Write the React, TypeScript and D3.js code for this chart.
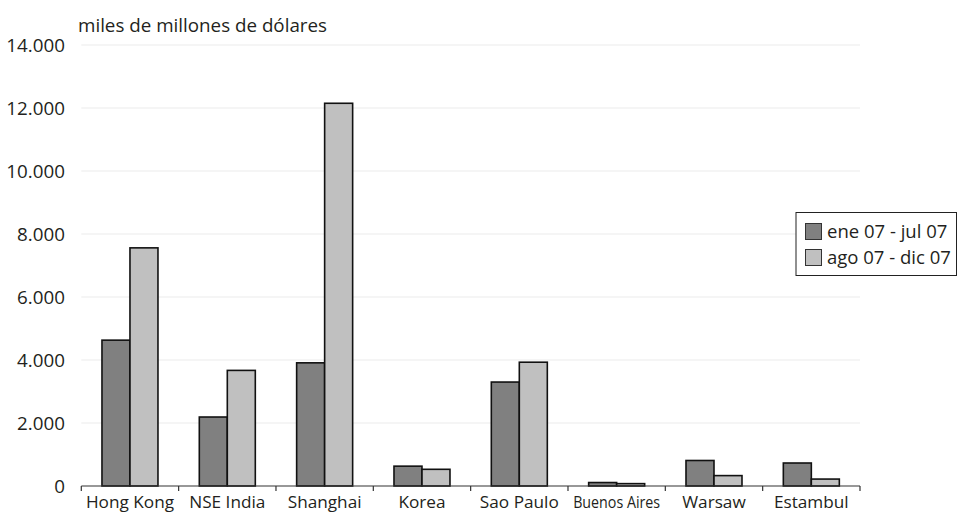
import React from "react";
import * as d3 from "d3";

const categories = ["Hong Kong", "NSE India", "Shanghai", "Korea", "Sao Paulo", "Buenos Aires", "Warsaw", "Estambul"];
const seriesNames = ["ene 07 - jul 07", "ago 07 - dic 07"];
const serie1 = [4630, 2190, 3910, 630, 3300, 110, 810, 730];
const serie2 = [7560, 3670, 12150, 530, 3930, 75, 330, 220];
const yTicks = [0, 2000, 4000, 6000, 8000, 10000, 12000, 14000];
const colors = ["#808080", "#c0c0c0"];

const W = 958, H = 513;
const left = 81.3, right = 860, top = 45, bottom = 486;
const FONT = "'Open Sans', 'Noto Sans', sans-serif";

const fmt = (v: number) => d3.format(",")(v).replace(/,/g, ".");

export default function App() {
  const x = d3.scaleBand<string>().domain(categories).range([left, right]).paddingInner(0).paddingOuter(0);
  const y = d3.scaleLinear().domain([0, 14000]).range([bottom, top]);
  const series = [serie1, serie2];
  const bw = 28;
  return (
    <svg width={W} height={H} style={{ position: "absolute", left: 0, top: 0, background: "#fff" }} fontFamily={FONT}>
      <text x={78} y={32} fontSize={18.8} fill="#231f20">miles de millones de dólares</text>
      {yTicks.map((t) => (
        <g key={t}>
          {t > 0 && <line x1={left} x2={right} y1={y(t)} y2={y(t)} stroke="#ebebeb" strokeWidth={1} />}
          <text x={65} y={y(t)} dy="0.36em" textAnchor="end" fontSize={18.8} fill="#231f20">{fmt(t)}</text>
        </g>
      ))}
      {categories.map((c, i) => {
        const cx = (x(c) as number) + x.bandwidth() / 2;
        return (
          <g key={c}>
            {series.map((s, k) => (
              <rect key={k} x={cx - bw + k * bw} y={y(s[i])} width={bw} height={bottom - y(s[i])}
                fill={colors[k]} stroke="#111" strokeWidth={1.6} />
            ))}
          </g>
        );
      })}
      <line x1={left} x2={right} y1={bottom} y2={bottom} stroke="#333" strokeWidth={1.2} />
      {[...categories.map((c) => x(c) as number), right].map((t, i) => (
        <line key={i} x1={t} x2={t} y1={bottom} y2={bottom + 5} stroke="#333" strokeWidth={1.2} />
      ))}
      {categories.map((c) => {
        const cx = (x(c) as number) + x.bandwidth() / 2;
        const small = c === "Buenos Aires";
        return (
          <text key={c} x={cx} y={508} textAnchor="middle" fontSize={small ? 16.5 : 17.2}
            fill="#231f20"
            {...(small ? { textLength: 87, lengthAdjust: "spacingAndGlyphs" } : {})}>{c}</text>
        );
      })}
      <rect x={796} y={212.5} width={160.5} height={63} fill="#fff" stroke="#222" strokeWidth={1} />
      {seriesNames.map((n, k) => (
        <g key={n}>
          <rect x={805.5} y={223.5 + k * 26} width={16} height={16} fill={colors[k]} stroke="#333" strokeWidth={1} />
          <text x={827} y={238 + k * 26} fontSize={18.5} fill="#231f20">{n}</text>
        </g>
      ))}
    </svg>
  );
}
